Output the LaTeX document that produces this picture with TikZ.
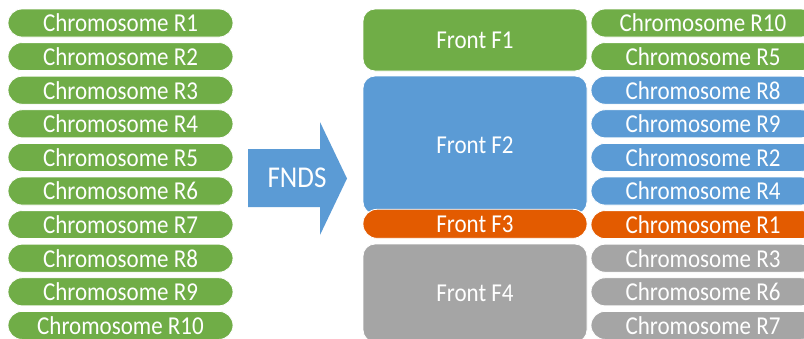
\documentclass[tikz,border=0pt]{standalone}
\usepackage{fontspec}
\setmainfont{Carlito}
\definecolor{cgreen}{HTML}{70AD47}
\definecolor{cblue}{HTML}{5B9BD5}
\definecolor{corange}{HTML}{E35B00}
\definecolor{cgrey}{HTML}{A5A5A5}
\newcommand{\tallt}[1]{\scalebox{1}[1.12]{#1}}
\begin{document}
\begin{tikzpicture}[x=1pt,y=-1pt,
  every node/.style={inner sep=0pt,outer sep=0pt,text=white,font=\fontsize{23}{26}\selectfont},
  pill/.style={draw=white,line width=0.8pt,rounded corners=14pt,minimum width=225pt,minimum height=28pt},
  frontbox/.style={draw=white,line width=0.8pt,rounded corners=12pt,minimum width=224pt},
]
\clip (0,0) rectangle (804,338);
\fill[white] (0,0) rectangle (804,338);
% left column
\foreach \i in {1,...,10}{
  \node[pill,fill=cgreen] (L\i) at (120.5,{23+(\i-1)*33.6}) {\tallt{Chromosome R\i}};
}
% arrow
\fill[cblue] (248,149) -- (320,149) -- (320,122) -- (347,178.5) -- (320,235) -- (320,207) -- (248,207) -- cycle;
\node[font=\fontsize{27}{30}\selectfont] (fnds) at (297,178) {\tallt{FNDS}};
% fronts
\node[frontbox,fill=cgreen,minimum height=62pt] (F1) at (475,40) {\tallt{Front F1}};
\node[frontbox,fill=cblue,minimum height=138pt] (F2) at (475,145) {\tallt{Front F2}};
\node[frontbox,fill=corange,minimum height=29pt,rounded corners=14pt] (F3) at (475,223.8) {\tallt{Front F3}};
\node[frontbox,fill=cgrey,minimum height=98pt] (F4) at (475,293) {\tallt{Front F4}};
% right column
\foreach \n/\r/\c in {1/10/cgreen,2/5/cgreen,3/8/cblue,4/9/cblue,5/2/cblue,6/4/cblue,7/1/corange,8/3/cgrey,9/6/cgrey,10/7/cgrey}{
  \node[pill,fill=\c,minimum width=224pt] (R\r) at (703,{23+(\n-1)*33.6}) {\tallt{Chromosome R\r}};
}
\end{tikzpicture}
\end{document}
